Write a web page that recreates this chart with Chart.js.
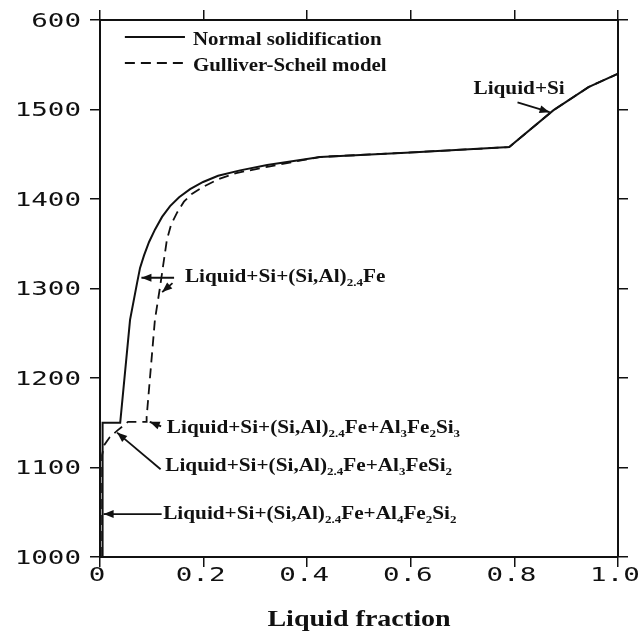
<!DOCTYPE html>
<html>
<head>
<meta charset="utf-8">
<script src="https://cdn.jsdelivr.net/npm/chart.js@4/dist/chart.umd.min.js"></script>
<style>
  html, body { margin: 0; padding: 0; background: #fff; }
</style>
</head>
<body>
<canvas id="myChart" width="644" height="635"></canvas>
<script>
// liquid fraction / temperature
var normalX = [0.004, 0.005, 0.039, 0.058, 0.0715, 0.0773, 0.085, 0.0947, 0.1063, 0.1198, 0.1353, 0.1527, 0.1739, 0.199, 0.228, 0.2705, 0.3227, 0.425, 0.6, 0.79, 0.875, 0.943, 1.0];
var normalY = [1000, 1150, 1150, 1265, 1306, 1323, 1337, 1352, 1366, 1380, 1392, 1402, 1411, 1419, 1426, 1432, 1438, 1447, 1452, 1458, 1499, 1525, 1540];

var scheilX = [0.004, 0.004, 0.008, 0.019, 0.035, 0.054, 0.090, 0.090, 0.106, 0.116, 0.122, 0.129, 0.137, 0.149, 0.162, 0.178, 0.197, 0.228, 0.263, 0.323, 0.425, 0.6, 0.79, 0.875, 0.943, 1.0];
var scheilY = [1000, 1114, 1125, 1134, 1142, 1151, 1151, 1156, 1265, 1302, 1326, 1354, 1371, 1385, 1397, 1406, 1413, 1422, 1429, 1436, 1447, 1452, 1458, 1499, 1525, 1540];

var xTicks = [0, 0.2, 0.4, 0.6, 0.8, 1.0];
var xTickLabels = ["0", "0.2", "0.4", "0.6", "0.8", "1.0"];
var yTicks = [1000, 1100, 1200, 1300, 1400, 1500, 1600];
var yTickLabels = ["1000", "1100", "1200", "1300", "1400", "1500", "600"];

var seriesNames = ["Normal solidification", "Gulliver-Scheil model"];

// phase labels: text parts [string, subscript?], anchor and arrow in data units
var notes = [
  { parts: [["Liquid+Si", 0]], x: 0.721, y: 1522, arrows: [[0.806, 1508, 0.868, 1497]] },
  { parts: [["Liquid+Si+(Si,Al)", 0], ["2.4", 1], ["Fe", 0]], x: 0.164, y: 1312,
    arrows: [[0.143, 1312, 0.080, 1312], [0.140, 1306, 0.120, 1296]] },
  { parts: [["Liquid+Si+(Si,Al)", 0], ["2.4", 1], ["Fe+Al", 0], ["3", 1], ["Fe", 0], ["2", 1], ["Si", 0], ["3", 1]],
    x: 0.129, y: 1144, arrows: [[0.118, 1146, 0.096, 1151]] },
  { parts: [["Liquid+Si+(Si,Al)", 0], ["2.4", 1], ["Fe+Al", 0], ["3", 1], ["FeSi", 0], ["2", 1]],
    x: 0.126, y: 1101, arrows: [[0.117, 1098, 0.033, 1139]] },
  { parts: [["Liquid+Si+(Si,Al)", 0], ["2.4", 1], ["Fe+Al", 0], ["4", 1], ["Fe", 0], ["2", 1], ["Si", 0], ["2", 1]],
    x: 0.122, y: 1048, arrows: [[0.119, 1048, 0.007, 1048]] }
];

function toPoints(xs, ys) {
  return xs.map(function (x, i) { return { x: x, y: ys[i] }; });
}

var serif = '"Liberation Serif", "Times New Roman", serif';

// bold serif text with subscripts, stretched a little to match the scan
function drawRich(ctx, parts, x, y, size, sx) {
  ctx.save();
  ctx.translate(x, y);
  ctx.scale(sx, 1);
  ctx.textAlign = 'left';
  ctx.textBaseline = 'middle';
  var cx = 0;
  parts.forEach(function (p) {
    var s = p[1] ? Math.round(size * 0.6) : size;
    ctx.font = 'bold ' + s + 'px ' + serif;
    ctx.fillText(p[0], cx, p[1] ? size * 0.32 : 0);
    cx += ctx.measureText(p[0]).width;
  });
  ctx.restore();
}

function arrow(ctx, x1, y1, x2, y2) {
  ctx.beginPath();
  ctx.moveTo(x1, y1);
  ctx.lineTo(x2, y2);
  ctx.stroke();
  var a = Math.atan2(y2 - y1, x2 - x1);
  ctx.beginPath();
  ctx.moveTo(x2, y2);
  ctx.lineTo(x2 - 10 * Math.cos(a) + 4 * Math.sin(a), y2 - 10 * Math.sin(a) - 4 * Math.cos(a));
  ctx.lineTo(x2 - 10 * Math.cos(a) - 4 * Math.sin(a), y2 - 10 * Math.sin(a) + 4 * Math.cos(a));
  ctx.closePath();
  ctx.fill();
}

var extras = {
  id: 'extras',
  afterDraw: function (chart) {
    var ctx = chart.ctx;
    var xs = chart.scales.x, ys = chart.scales.y, area = chart.chartArea;
    ctx.save();
    ctx.fillStyle = '#111';
    ctx.strokeStyle = '#111';

    // tick labels in a wide plotter-like mono face
    ctx.font = '19px "DejaVu Sans Mono", monospace';
    ctx.textBaseline = 'middle';
    yTicks.forEach(function (v, i) {
      ctx.save();
      ctx.translate(area.left - 19, ys.getPixelForValue(v) + 2);
      ctx.scale(1.45, 1);
      ctx.textAlign = 'right';
      ctx.fillText(yTickLabels[i], 0, 0);
      ctx.restore();
    });
    xTicks.forEach(function (v, i) {
      ctx.save();
      ctx.translate(xs.getPixelForValue(v) - 3, area.bottom + 19);
      ctx.scale(1.45, 1);
      ctx.textAlign = 'center';
      ctx.fillText(xTickLabels[i], 0, 0);
      ctx.restore();
    });

    // axis title
    ctx.save();
    ctx.translate((area.left + area.right) / 2, 620);
    ctx.scale(1.22, 1);
    ctx.font = 'bold 23px ' + serif;
    ctx.textAlign = 'center';
    ctx.textBaseline = 'middle';
    ctx.fillText('Liquid fraction', 0, 0);
    ctx.restore();

    // legend inside the plot
    ctx.lineWidth = 2;
    var lx1 = xs.getPixelForValue(0.048), lx2 = xs.getPixelForValue(0.164);
    var ly1 = ys.getPixelForValue(1581), ly2 = ys.getPixelForValue(1552);
    ctx.beginPath(); ctx.moveTo(lx1, ly1); ctx.lineTo(lx2, ly1); ctx.stroke();
    ctx.setLineDash([10, 6]);
    ctx.beginPath(); ctx.moveTo(lx1, ly2); ctx.lineTo(lx2, ly2); ctx.stroke();
    ctx.setLineDash([]);
    drawRich(ctx, [[seriesNames[0], 0]], lx2 + 8, ly1 + 3, 19, 1.1);
    drawRich(ctx, [[seriesNames[1], 0]], lx2 + 8, ly2 + 3, 19, 1.1);

    // phase annotations
    ctx.lineWidth = 1.8;
    notes.forEach(function (n) {
      drawRich(ctx, n.parts, xs.getPixelForValue(n.x), ys.getPixelForValue(n.y), 18, 1.18);
      n.arrows.forEach(function (a) {
        arrow(ctx, xs.getPixelForValue(a[0]), ys.getPixelForValue(a[1]),
          xs.getPixelForValue(a[2]), ys.getPixelForValue(a[3]));
      });
    });
    ctx.restore();
  }
};

function axis(pos, min, max, step) {
  return {
    type: 'linear',
    position: pos,
    min: min,
    max: max,
    ticks: { display: false, stepSize: step },
    grid: { drawOnChartArea: false, drawTicks: true, tickLength: 10, color: '#111', lineWidth: 1.5 },
    border: { display: true, color: '#111', width: 2 }
  };
}

new Chart("myChart", {
  type: "scatter",
  data: {
    datasets: [{
      label: seriesNames[0],
      data: toPoints(normalX, normalY),
      showLine: true,
      borderColor: '#111',
      borderWidth: 2,
      pointRadius: 0,
      tension: 0
    }, {
      label: seriesNames[1],
      data: toPoints(scheilX, scheilY),
      showLine: true,
      borderColor: '#111',
      borderWidth: 1.8,
      borderDash: [10, 6],
      pointRadius: 0,
      tension: 0
    }]
  },
  options: {
    responsive: false,
    animation: false,
    layout: { padding: { left: 90, right: 16, top: 10, bottom: 68 } },
    plugins: { legend: { display: false }, tooltip: { enabled: false } },
    scales: {
      x: axis('bottom', 0, 1.0, 0.2),
      x2: axis('top', 0, 1.0, 0.2),
      y: axis('left', 1000, 1600, 100),
      y2: axis('right', 1000, 1600, 100)
    }
  },
  plugins: [extras]
});
</script>
</body>
</html>
